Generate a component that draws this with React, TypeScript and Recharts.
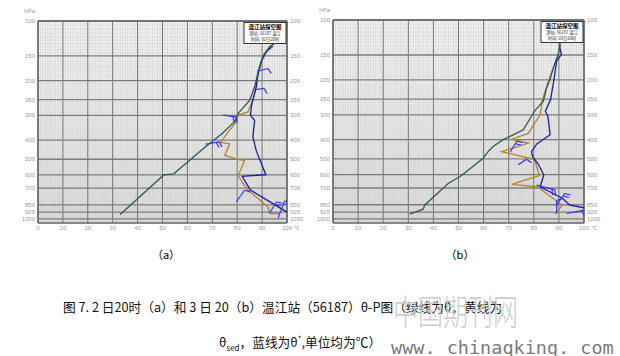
import React from "react";
import { ComposedChart, Line, Scatter, XAxis, YAxis, ReferenceLine, ReferenceArea } from "recharts";

type Pt = { p: number; t: number };
type Barb = { p: number; t: number; ang: number; len: number; n: number };

// axes
const pressureTicks = [100, 150, 200, 250, 300, 400, 500, 600, 700, 850, 925, 1000];
const tempTicks = [0, 10, 20, 30, 40, 50, 60, 70, 80, 90, 100];

// (a) 2nd 20h
const thetaA: Pt[] = [
  { p: 950, t: 33 }, { p: 600, t: 50.5 }, { p: 592, t: 54.5 }, { p: 425, t: 68 }, { p: 370, t: 74 },
  { p: 322, t: 79 }, { p: 292, t: 80.5 }, { p: 252, t: 85 }, { p: 215, t: 87 }, { p: 180, t: 88.5 },
  { p: 150, t: 90.5 }, { p: 135, t: 93 }, { p: 130, t: 95 },
];
const thetaSedA: Pt[] = [
  { p: 945, t: 96.8 }, { p: 940, t: 93 }, { p: 870, t: 92.3 }, { p: 710, t: 84 }, { p: 605, t: 80.3 },
  { p: 598, t: 80.6 }, { p: 505, t: 83 }, { p: 503, t: 80.8 }, { p: 478, t: 75 }, { p: 418, t: 77 },
  { p: 410, t: 73.3 }, { p: 330, t: 79 }, { p: 300, t: 80.5 }, { p: 288, t: 84.3 }, { p: 250, t: 86.3 },
  { p: 222, t: 87.4 }, { p: 180, t: 88.3 }, { p: 150, t: 90.3 }, { p: 135, t: 93 }, { p: 130, t: 95 },
];
const thetaStarA: Pt[] = [
  { p: 925, t: 100 }, { p: 715, t: 85.3 }, { p: 610, t: 82 }, { p: 598, t: 91.5 }, { p: 455, t: 87.7 },
  { p: 385, t: 86.3 }, { p: 318, t: 87 }, { p: 300, t: 85.3 }, { p: 270, t: 85.7 }, { p: 250, t: 86.3 },
  { p: 215, t: 87.7 }, { p: 188, t: 88.3 }, { p: 160, t: 89.7 }, { p: 143, t: 91.7 }, { p: 134, t: 94.3 },
];
const barbsA: Barb[] = [
  { p: 179, t: 88.4, ang: 15, len: 10, n: 1 },
  { p: 222, t: 87.7, ang: 8, len: 8, n: 1 },
  { p: 299, t: 74.3, ang: -8, len: 13, n: 2 },
  { p: 420, t: 67.2, ang: 10, len: 14, n: 2 },
  { p: 820, t: 79.7, ang: 55, len: 14, n: 1 },
  { p: 935, t: 93, ang: 58, len: 13, n: 2 },
  { p: 990, t: 96.4, ang: 69, len: 18, n: 2 },
];

// (b) 3rd 20h
const thetaB: Pt[] = [
  { p: 947, t: 30.6 }, { p: 895, t: 35.9 }, { p: 852, t: 36.6 }, { p: 665, t: 45.9 }, { p: 606, t: 51.2 },
  { p: 496, t: 59.8 }, { p: 459, t: 61.8 }, { p: 433, t: 63.8 }, { p: 400, t: 67.8 }, { p: 378, t: 71.8 },
  { p: 357, t: 75.8 }, { p: 305, t: 79.1 }, { p: 285, t: 80.5 }, { p: 256, t: 83.8 }, { p: 219, t: 85.1 },
  { p: 200, t: 86.4 }, { p: 174, t: 87.8 }, { p: 149, t: 89.7 }, { p: 135, t: 90.4 }, { p: 131, t: 90.4 },
];
const thetaSedB: Pt[] = [
  { p: 947, t: 88.4 }, { p: 855, t: 91.3 }, { p: 690, t: 81.5 }, { p: 672, t: 71.2 }, { p: 606, t: 82.2 },
  { p: 502, t: 80.3 }, { p: 459, t: 67.2 }, { p: 416, t: 77.8 }, { p: 398, t: 71.2 }, { p: 372, t: 77.8 },
  { p: 300, t: 82.5 }, { p: 251, t: 83.5 }, { p: 203, t: 85.8 }, { p: 174, t: 87.8 }, { p: 149, t: 89.7 },
  { p: 135, t: 90.4 }, { p: 131, t: 90.4 },
];
const thetaStarB: Pt[] = [
  { p: 880, t: 100 }, { p: 855, t: 94.4 }, { p: 790, t: 91.5 }, { p: 690, t: 82.5 }, { p: 602, t: 84 },
  { p: 532, t: 81.8 }, { p: 486, t: 79.5 }, { p: 459, t: 79.1 }, { p: 420, t: 81.2 }, { p: 378, t: 86.5 },
  { p: 305, t: 85.6 }, { p: 288, t: 84.6 }, { p: 251, t: 86.7 }, { p: 200, t: 88 }, { p: 161, t: 89.1 },
  { p: 149, t: 91 }, { p: 135, t: 90.2 },
];
const barbsB: Barb[] = [
  { p: 463, t: 70.5, ang: 58, len: 13, n: 2 },
  { p: 535, t: 73.8, ang: 34, len: 10, n: 1 },
  { p: 676, t: 81.1, ang: -15, len: 19, n: 2 },
  { p: 940, t: 89.1, ang: 90, len: 13, n: 1 },
  { p: 852, t: 89.1, ang: 55, len: 14, n: 2 },
  { p: 940, t: 93.1, ang: 11, len: 18, n: 2 },
];

const minorT = Array.from({ length: 101 }, (_, i) => i).filter((v) => v % 10 !== 0);
const minorP = Array.from({ length: 190 }, (_, i) => 105 + i * 5).filter((v) => !pressureTicks.includes(v));

const LABEL = "#9a9a9a";
const tickFont = { fontSize: 6, fill: LABEL, fontFamily: "Liberation Sans" };

const BarbShape = (props: any) => {
  const { cx, cy, payload } = props;
  if (cx == null || cy == null) return null;
  const a = (payload.ang * Math.PI) / 180;
  const ex = cx + payload.len * Math.cos(a);
  const ey = cy - payload.len * Math.sin(a);
  const fa = a - (70 * Math.PI) / 180;
  const feathers = [];
  for (let i = 0; i < payload.n; i++) {
    const bx = ex - i * 3 * Math.cos(a);
    const by = ey + i * 3 * Math.sin(a);
    feathers.push(
      <line key={i} x1={bx} y1={by} x2={bx + 6 * Math.cos(fa)} y2={by - 6 * Math.sin(fa)} stroke="#2b2bff" strokeWidth={1.1} />
    );
  }
  return (
    <g>
      <line x1={cx} y1={cy} x2={ex} y2={ey} stroke="#2b2bff" strokeWidth={1.1} />
      {feathers}
    </g>
  );
};

const BottomTick = (props: any) => {
  const { x, y, payload } = props;
  return (
    <g>
      <text x={x} y={y + 7} textAnchor="middle" {...tickFont}>
        {payload.value}
      </text>
      {payload.value === 100 && (
        <text x={x + 7} y={y + 7} {...tickFont}>
          ℃
        </text>
      )}
    </g>
  );
};

const TopTick = (props: any) => {
  const { x, y, payload } = props;
  return (
    <text x={x} y={y - 2} textAnchor="middle" {...tickFont}>
      {payload.value}
    </text>
  );
};

const LeftTick = (props: any) => {
  const { x, y, payload } = props;
  return (
    <text x={x - 1} y={y + 2} textAnchor="end" {...tickFont}>
      {payload.value}
    </text>
  );
};

const RightTick = (props: any) => {
  const { x, y, payload } = props;
  return (
    <text x={x + 1} y={y + 2} textAnchor="start" {...tickFont}>
      {payload.value}
    </text>
  );
};

interface PanelProps {
  theta: Pt[];
  sed: Pt[];
  star: Pt[];
  barbs: Barb[];
  margin: { top: number; right: number; bottom: number; left: number };
  leftW: number;
  lines: string[];
}

const Panel: React.FC<PanelProps> = ({ theta, sed, star, barbs, margin, leftW, lines }) => {
  const plotL = margin.left + leftW;
  const plotR = 310 - margin.right - 20;
  const plotT = margin.top + 12;
  return (
    <div style={{ position: "relative", width: 310, height: 240 }}>
      <ComposedChart width={310} height={240} margin={margin}>
        <XAxis dataKey="t" type="number" domain={[0, 100]} ticks={tempTicks} interval={0} allowDataOverflow
          axisLine={false} tickLine={false} height={10} tickSize={0} tickMargin={0} tick={<BottomTick />} />
        <XAxis xAxisId="top" orientation="top" type="number" domain={[0, 100]} ticks={tempTicks} interval={0}
          axisLine={false} tickLine={false} height={12} tickSize={0} tickMargin={0} tick={<TopTick />} />
        <YAxis dataKey="p" type="number" scale="log" domain={[100, 1050]} reversed allowDataOverflow ticks={pressureTicks}
          interval={0} axisLine={false} tickLine={false} width={leftW} tickSize={0} tickMargin={2} tick={<LeftTick />} />
        <YAxis yAxisId="right" orientation="right" type="number" scale="log" domain={[100, 1050]} reversed allowDataOverflow
          ticks={pressureTicks} interval={0} axisLine={false} tickLine={false} width={20} tickSize={0} tickMargin={2} tick={<RightTick />} />
        <ReferenceArea x1={0} x2={100} y1={100} y2={1050} fill="#f4f4f4" fillOpacity={1} stroke="none" zIndex={-200} />
        {minorT.map((v) => (
          <ReferenceLine key={"vt" + v} x={v} stroke="#cdcdcd" strokeWidth={0.6} zIndex={-100} />
        ))}
        {minorP.map((v) => (
          <ReferenceLine key={"hp" + v} y={v} stroke="#d0d0d0" strokeWidth={0.5} zIndex={-100} />
        ))}
        {tempTicks.map((v) => (
          <ReferenceLine key={"VT" + v} x={v} stroke="#6e6e6e" strokeWidth={1} zIndex={-90} />
        ))}
        {pressureTicks.map((v) => (
          <ReferenceLine key={"HP" + v} y={v} stroke="#7a7a7a" strokeWidth={1.3} zIndex={-90} />
        ))}
        <ReferenceLine x={0} stroke="#666" strokeWidth={1.5} zIndex={-80} />
        <ReferenceLine x={100} stroke="#666" strokeWidth={1.5} zIndex={-80} />
        <ReferenceLine y={100} stroke="#666" strokeWidth={1.5} zIndex={-80} />
        <ReferenceLine y={1050} stroke="#666" strokeWidth={1.5} zIndex={-80} />
        <Line data={sed} dataKey="p" stroke="#b5832a" strokeWidth={1.3} dot={false} isAnimationActive={false} />
        <Line data={star} dataKey="p" stroke="#1c1caa" strokeWidth={1.3} dot={false} isAnimationActive={false} />
        <Line data={theta} dataKey="p" stroke="#2c5a56" strokeWidth={1.3} dot={false} isAnimationActive={false} />
        <Scatter data={barbs} shape={<BarbShape />} isAnimationActive={false} />
      </ComposedChart>
      <svg width={310} height={240} style={{ position: "absolute", left: 0, top: 0, pointerEvents: "none" }}>
        <text x={plotL - 3} y={plotT - 8} textAnchor="end" {...tickFont}>hPa</text>
        <rect x={plotR - 43} y={plotT + 1.5} width={42} height={21} fill="#fff" stroke="#333" strokeWidth={1} />
        <text x={plotR - 22} y={plotT + 8} textAnchor="middle" fontSize={5.5} fontWeight="bold" fontFamily="Noto Sans CJK SC" fill="#000">
          {lines[0]}
        </text>
        <text x={plotR - 22} y={plotT + 14} textAnchor="middle" fontSize={4.2} fontFamily="Noto Sans CJK SC" fill="#222">
          {lines[1]}
        </text>
        <text x={plotR - 22} y={plotT + 19.5} textAnchor="middle" fontSize={4.2} fontFamily="Noto Sans CJK SC" fill="#222">
          {lines[2]}
        </text>
      </svg>
    </div>
  );
};

const cjk = "'Noto Sans CJK SC', sans-serif";

export default function App() {
  return (
    <div style={{ position: "absolute", left: 0, top: 0, width: 620, height: 356, background: "#fff", overflow: "hidden" }}>
      <div style={{ position: "absolute", left: 0, top: 0 }}>
        <Panel theta={thetaA} sed={thetaSedA} star={thetaStarA} barbs={barbsA}
          margin={{ top: 9, right: 3, bottom: 7, left: 8 }} leftW={30}
          lines={["温江站探空图", "测站: 56187 温江", "时间: 02日20时"]} />
      </div>
      <div style={{ position: "absolute", left: 310, top: 0 }}>
        <Panel theta={thetaB} sed={thetaSedB} star={thetaStarB} barbs={barbsB}
          margin={{ top: 8, right: 16, bottom: 7, left: 3 }} leftW={20}
          lines={["温江站探空图", "测站: 56187 温江", "时间: 03日20时"]} />
      </div>
      <div style={{ position: "absolute", left: 150, top: 246, width: 32, textAlign: "center", fontFamily: cjk, fontSize: 11 }}>（a）</div>
      <div style={{ position: "absolute", left: 444, top: 246, width: 32, textAlign: "center", fontFamily: cjk, fontSize: 11 }}>（b）</div>
      <div style={{ position: "absolute", left: 63, top: 299, whiteSpace: "nowrap", fontFamily: cjk, fontSize: 12.7, lineHeight: "16px", color: "#111" }}>
        图 7.  2 日20时（a）和 3 日 20（b）温江站（56187）θ-P图（绿线为θ，黄线为
      </div>
      <div style={{ position: "absolute", left: 219, top: 331, whiteSpace: "nowrap", fontFamily: cjk, fontSize: 12.7, lineHeight: "16px", color: "#111" }}>
        θ<sub style={{ fontSize: 8 }}>sed</sub>，蓝线为θ<sup style={{ fontSize: 8 }}>*</sup>,单位均为℃）
      </div>
      <div style={{ position: "absolute", left: 393, top: 293, whiteSpace: "nowrap", fontFamily: cjk, fontSize: 25, lineHeight: "25px",
        color: "#cdcdcd", fontWeight: 300, transform: "scaleY(1.4)", transformOrigin: "top left" }}>
        中国期刊网
      </div>
      <div style={{ position: "absolute", left: 391, top: 339, whiteSpace: "nowrap", fontFamily: "'DejaVu Sans Mono', monospace", fontSize: 18.5,
        lineHeight: "18.5px", color: "#7a7a7a" }}>
        www. chinaqking. com
      </div>
    </div>
  );
}
